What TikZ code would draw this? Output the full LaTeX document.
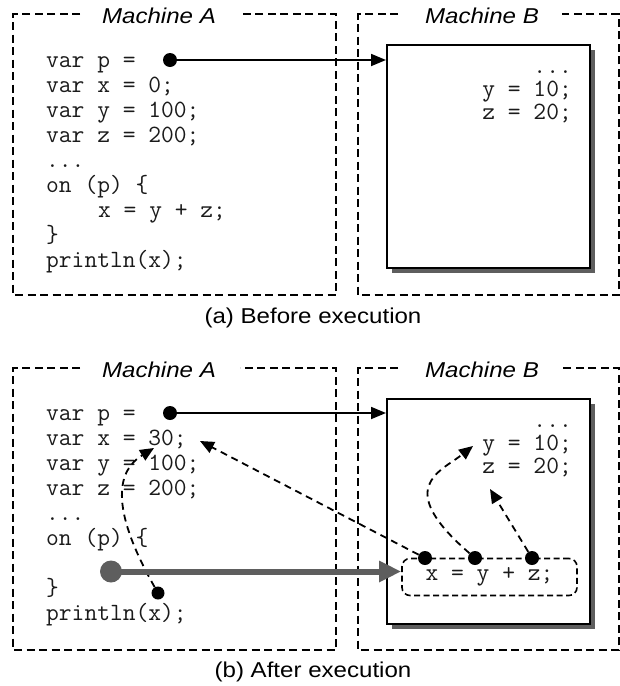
\documentclass[tikz,border=0pt]{standalone}
\usepackage{fontspec}
\setmainfont{Liberation Sans}
\newfontfamily\codefont{Latin Modern Mono}
\usetikzlibrary{arrows.meta,shadows,calc}
\definecolor{shade}{HTML}{5E5E5E}
\definecolor{txt}{HTML}{1A1A1A}
\begin{document}
\begin{tikzpicture}[x=1pt,y=-1pt,
  machine/.style={line width=1.6pt, dash pattern=on 8pt off 4.5pt},
  mtitle/.style={font=\fontsize{21.5}{24}\selectfont\itshape, xscale=1.12, anchor=base, inner sep=0pt},
  caption/.style={font=\fontsize{21.5}{24}\selectfont, xscale=1.12, anchor=base, inner sep=0pt},
  code/.style={font=\codefont\fontsize{24.8}{25}\selectfont, text=txt, anchor=base west, inner sep=0pt},
  rcode/.style={font=\codefont\fontsize{24.8}{23}\selectfont, text=txt, anchor=north east, inner sep=0pt, align=right},
  heap/.style={draw, line width=2pt, fill=white, minimum width=203pt,
     drop shadow={shadow xshift=5pt, shadow yshift=-5pt, fill=shade, opacity=1}},
  dot/.style={circle, fill=black, minimum size=14pt, inner sep=0pt},
  gdot/.style={circle, fill=shade, minimum size=22pt, inner sep=0pt},
  ptr/.style={line width=1.8pt, -{Triangle[length=15pt,width=12pt]}},
  dptr/.style={line width=1.8pt, dash pattern=on 7pt off 5pt, -{Triangle[length=14pt,width=12pt]}},
  gptr/.style={line width=6pt, draw=shade, -{Triangle[length=22pt,width=20pt]}},
  exprbox/.style={draw, line width=1.6pt, dash pattern=on 6pt off 3.5pt, rounded corners=8pt,
     minimum width=175pt, minimum height=37pt, inner sep=0pt,
     font=\codefont\fontsize{24.8}{25}\selectfont, text=txt}
]
\useasboundingbox (0,0) rectangle (620,686);

% ---------------- (a) Before execution ----------------
\draw[machine] (80,14) -- (13,14) -- (13,295) -- (336,295) -- (336,14) -- (240,14);
\draw[machine] (398,14) -- (358,14) -- (358,295) -- (618.8,295) -- (618.8,14) -- (562,14);
\node[mtitle] (tA1) at (159,23.3) {Machine A};
\node[mtitle] (tB1) at (482,23.3) {Machine B};

\node[code] (a1) at (46,67) {var p =};
\node[code] (a2) at (46,92) {var x = 0;};
\node[code] (a3) at (46,117) {var y = 100;};
\node[code] (a4) at (46,142) {var z = 200;};
\node[code] (a5) at (46,167) {...};
\node[code] (a6) at (46,192) {on (p) \{};
\node[code] (a7) at (98,217) {x = y + z;};
\node[code] (a8) at (46,242) {\}};
\node[code] (a9) at (46,267) {println(x);};

\node[heap, minimum height=223pt] (hA) at (488.5,156.5) {};
\node[rcode] (b1) at (572,56) {\rule{0pt}{17pt}...\\y = 10;\\z = 20;};

\node[dot] (pA) at (170,60) {};
\draw[ptr] (pA.center) -- (pA -| hA.west);

\node[caption] (capA) at (313,323) {(a) Before execution};

% ---------------- (b) After execution ----------------
\draw[machine] (80,368) -- (13,368) -- (13,650) -- (336,650) -- (336,368) -- (240,368);
\draw[machine] (398,368) -- (358,368) -- (358,650) -- (618.8,650) -- (618.8,368) -- (562,368);
\node[mtitle] (tA2) at (159,377.3) {Machine A};
\node[mtitle] (tB2) at (482,377.3) {Machine B};

\node[code] (c1) at (46,420) {var p =};
\node[code] (c2) at (46,445) {var x = 30;};
\node[code] (c3) at (46,470) {var y = 100;};
\node[code] (c4) at (46,495) {var z = 200;};
\node[code] (c5) at (46,520) {...};
\node[code] (c6) at (46,545) {on (p) \{};
\node[code] (c8) at (46,595) {\}};
\node[code] (c9) at (46,620) {println(x);};

\node[heap, minimum height=225pt] (hB) at (488.5,511.5) {};
\node[rcode] (e1) at (572,410) {\rule{0pt}{17pt}...\\y = 10;\\z = 20;};

\node[exprbox] (expr) at (489.5,577) {x = y + z;};

\node[dot] (pB) at (170,413) {};
\draw[ptr] (pB.center) -- (pB -| hB.west);

\node[dot] (d1) at (425,558) {};
\node[dot] (d2) at (475,558) {};
\node[dot] (d3) at (532,558) {};
\node[dot, minimum size=13pt] (dx) at (158,593) {};

\coordinate (tx30) at (200,441);
\coordinate (tx30b) at (154,448);
\coordinate (ty10) at (473,446);
\coordinate (tz20) at (490,489);

\draw[dptr] (d1) -- (tx30);
\draw[dptr] (dx) .. controls (108,505) and (118,470) .. (tx30b);
\draw[dptr] (d2) .. controls (393,487) and (440,472) .. (ty10);
\draw[dptr] (d3) -- (tz20);

\node[gdot] (g) at (111,571.5) {};
\draw[gptr] (g.center) -- (g -| expr.west);

\node[caption] (capB) at (313,677) {(b) After execution};
\end{tikzpicture}
\end{document}
